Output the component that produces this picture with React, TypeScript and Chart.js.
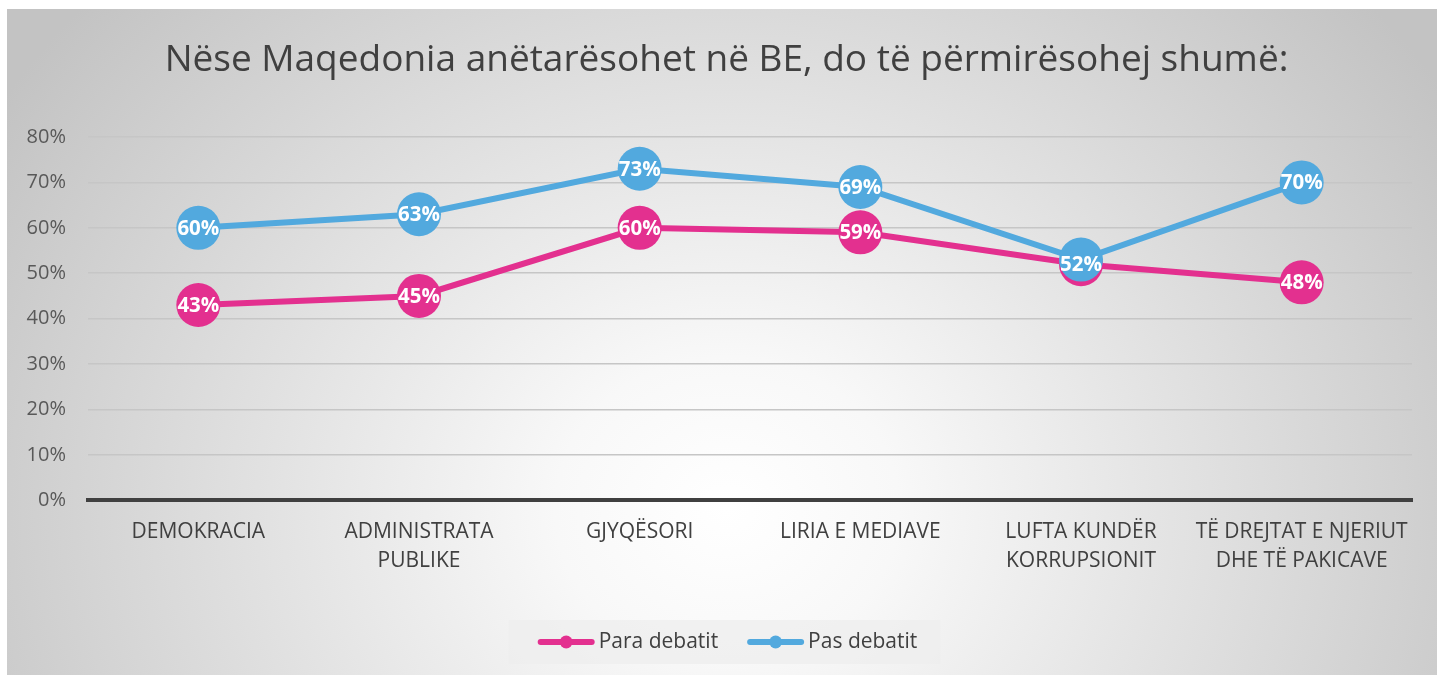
import { useEffect, useRef } from "react";
import { Chart, registerables } from "chart.js";

Chart.register(...registerables);

const FONT = "'Open Sans', 'DejaVu Sans', sans-serif";

const chartTitle = "Nëse Maqedonia anëtarësohet në BE, do të përmirësohej shumë:";
const categories: string[][] = [
  ["DEMOKRACIA"],
  ["ADMINISTRATA", "PUBLIKE"],
  ["GJYQËSORI"],
  ["LIRIA E MEDIAVE"],
  ["LUFTA KUNDËR", "KORRUPSIONIT"],
  ["TË DREJTAT E NJERIUT", "DHE TË PAKICAVE"],
];
const seriesNames = ["Para debatit", "Pas debatit"];
const paraValues = [43, 45, 60, 59, 52, 48];
const pasValues = [60, 63, 73, 69, 53, 70];
const paraLabels = ["43%", "45%", "60%", "59%", "52%", "48%"];
const pasLabels = ["60%", "63%", "73%", "69%", "", "70%"];
const yMin = 0;
const yMax = 80;
const yStep = 10;

const PINK = "#E3308F";
const BLUE = "#52A9DE";

const pointLabels = [paraLabels, pasLabels];

const titlePlugin = {
  id: "centeredTitle",
  afterDraw(chart: any) {
    const ctx = chart.ctx;
    ctx.save();
    ctx.font = `37px ${FONT}`;
    ctx.fillStyle = "#404040";
    ctx.textAlign = "center";
    ctx.textBaseline = "middle";
    ctx.fillText(chartTitle, chart.width / 2 + 4.5, 51);
    ctx.restore();
  },
};

const dataLabelPlugin = {
  id: "dataLabels",
  afterDatasetsDraw(chart: any) {
    const ctx = chart.ctx;
    ctx.save();
    ctx.font = `bold 20.5px ${FONT}`;
    ctx.fillStyle = "#ffffff";
    ctx.textAlign = "center";
    ctx.textBaseline = "middle";
    [1, 0].forEach((di) => {
      const meta = chart.getDatasetMeta(di);
      meta.data.forEach((pt: any, i: number) => {
        const t = pointLabels[di][i];
        if (t) ctx.fillText(t, pt.x, pt.y + 1);
      });
    });
    ctx.restore();
  },
};

const legendPlugin = {
  id: "boxLegend",
  afterDraw(chart: any) {
    const ctx = chart.ctx;
    ctx.save();
    ctx.font = `21px ${FONT}`;
    const lineW = 57;
    const gap = 4;
    const itemGap = 29;
    const padL = 29;
    const padR = 23;
    const items = chart.data.datasets.map((ds: any) => ({
      label: ds.label as string,
      color: ds.borderColor as string,
      w: ctx.measureText(ds.label).width,
    }));
    const contentW =
      items.reduce((s: number, it: any) => s + lineW + gap + it.w, 0) +
      itemGap * (items.length - 1);
    const boxW = contentW + padL + padR;
    const boxH = 44;
    const boxX = chart.width / 2 + 2.5 - boxW / 2;
    const boxY = chart.height - 55;
    ctx.fillStyle = "rgba(238,238,238,0.75)";
    ctx.fillRect(boxX, boxY, boxW, boxH);
    let x = boxX + padL;
    const cy = boxY + boxH / 2;
    items.forEach((it: any) => {
      ctx.strokeStyle = it.color;
      ctx.lineWidth = 6;
      ctx.lineCap = "round";
      ctx.beginPath();
      ctx.moveTo(x + 3, cy);
      ctx.lineTo(x + lineW - 3, cy);
      ctx.stroke();
      ctx.fillStyle = it.color;
      ctx.beginPath();
      ctx.arc(x + lineW / 2, cy, 6.5, 0, Math.PI * 2);
      ctx.fill();
      ctx.fillStyle = "#404040";
      ctx.textAlign = "left";
      ctx.textBaseline = "middle";
      ctx.fillText(it.label, x + lineW + gap, cy);
      x += lineW + gap + it.w + itemGap;
    });
    ctx.restore();
  },
};

export default function App() {
  const ref = useRef<HTMLCanvasElement | null>(null);

  useEffect(() => {
    if (!ref.current) return;
    const chart = new Chart(ref.current, {
      type: "line",
      data: {
        labels: categories,
        datasets: [
          {
            label: seriesNames[0],
            data: paraValues,
            borderColor: PINK,
            backgroundColor: PINK,
            pointBackgroundColor: PINK,
            pointBorderColor: PINK,
            borderWidth: 6,
            pointRadius: 22,
            pointBorderWidth: 0,
            pointHoverRadius: 22,
            tension: 0,
            order: 2,
          },
          {
            label: seriesNames[1],
            data: pasValues,
            borderColor: BLUE,
            backgroundColor: BLUE,
            pointBackgroundColor: BLUE,
            pointBorderColor: BLUE,
            borderWidth: 6,
            pointRadius: 22,
            pointBorderWidth: 0,
            pointHoverRadius: 22,
            tension: 0,
            order: 1,
          },
        ],
      },
      options: {
        responsive: false,
        animation: false,
        events: [],
        layout: { padding: { left: 0, right: 25, top: 128, bottom: 82 } },
        plugins: {
          legend: { display: false },
          tooltip: { enabled: false },
          title: { display: false },
        },
        scales: {
          x: {
            offset: true,
            grid: { display: false, drawTicks: false },
            border: { display: true, color: "#404040", width: 4 },
            ticks: {
              color: "#404040",
              font: { family: FONT, size: 21, lineHeight: 1.35 },
              padding: 18,
              maxRotation: 0,
              autoSkip: false,
            },
          },
          y: {
            min: yMin,
            max: yMax,
            afterFit: (s: any) => {
              s.width = 81;
            },
            grid: { color: "#c6c6c6", lineWidth: 1.5, drawTicks: false },
            border: { display: false },
            ticks: {
              stepSize: yStep,
              color: "#595959",
              font: { family: FONT, size: 20 },
              padding: 22,
              callback: (v: any) => `${v}%`,
            },
          },
        },
      },
      plugins: [dataLabelPlugin, legendPlugin, titlePlugin],
    });
    return () => chart.destroy();
  }, []);

  return (
    <div
      style={{
        position: "absolute",
        left: 7,
        top: 9,
        width: 1430,
        height: 666,
        background:
          "radial-gradient(860px 760px at 720px 500px, #ffffff 0%, #f8f8f8 20%, #c3c3c3 100%)",
      }}
    >
      <canvas ref={ref} width={1430} height={666} style={{ display: "block" }} />
    </div>
  );
}
